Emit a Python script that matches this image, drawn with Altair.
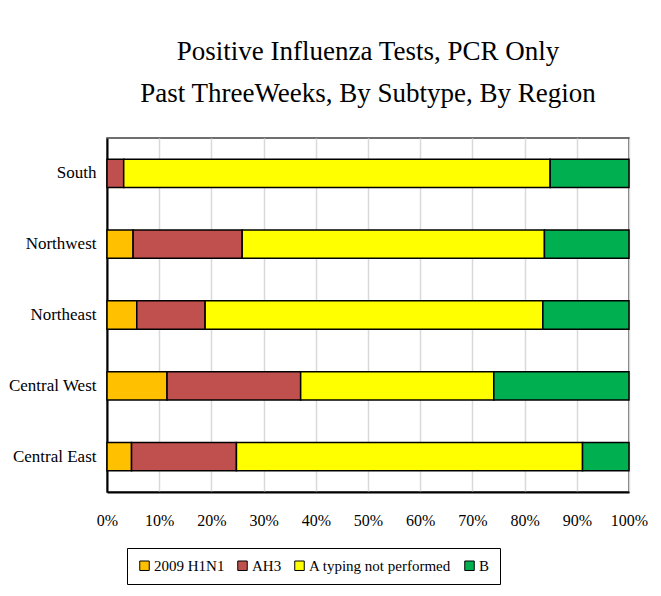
import altair as alt
import pandas as pd

regions = ["South", "Northwest", "Northeast", "Central West", "Central East"]
subtypes = ["2009 H1N1", "AH3", "A typing not performed", "B"]
h1n1 = [0.0, 5.0, 5.7, 11.5, 4.7]
ah3 = [3.2, 20.9, 13.1, 25.6, 20.1]
a_not_typed = [81.7, 57.9, 64.7, 37.0, 66.3]
b = [15.1, 16.2, 16.5, 25.9, 8.9]
colors = ["#FFC000", "#C0504D", "#FFFF00", "#00B050"]
x_ticks = [0, 0.1, 0.2, 0.3, 0.4, 0.5, 0.6, 0.7, 0.8, 0.9, 1.0]

rows = []
for i, r in enumerate(regions):
    for k, (s, vals) in enumerate(zip(subtypes, [h1n1, ah3, a_not_typed, b])):
        if vals[i] > 0:
            rows.append({"Region": r, "Subtype": s, "Value": vals[i], "order": k})
df = pd.DataFrame(rows)

FONT = "Liberation Serif"

chart = alt.Chart(df).mark_bar(stroke="black", strokeWidth=1.5).encode(
    y=alt.Y("Region:N", sort=regions,
            scale=alt.Scale(paddingInner=0.6, paddingOuter=0.3),
            axis=alt.Axis(title=None, ticks=False, domainColor="black", domainWidth=2,
                          labelFont=FONT, labelFontSize=17, labelColor="black",
                          labelPadding=11, grid=False)),
    x=alt.X("Value:Q", stack="normalize",
            scale=alt.Scale(domain=[0, 1], nice=False),
            axis=alt.Axis(title=None, format=".0%", values=x_ticks, ticks=False,
                          domainColor="black", domainWidth=2,
                          labelFont=FONT, labelFontSize=16, labelColor="black",
                          labelPadding=20, labelOverlap=False, labelFlush=False,
                          grid=True, gridColor="#d9d9d9", gridWidth=1.5)),
    color=alt.Color("Subtype:N", sort=subtypes,
                    scale=alt.Scale(domain=subtypes, range=colors),
                    legend=alt.Legend(title=None, orient="none", legendX=20, legendY=410,
                                      direction="horizontal", strokeColor="black",
                                      padding=10, labelFont=FONT, labelFontSize=15,
                                      labelColor="black", labelLimit=400,
                                      symbolType="square",
                                      symbolSize=90, symbolStrokeColor="black",
                                      symbolStrokeWidth=1, columnPadding=10,
                                      labelOffset=2)),
    order=alt.Order("order:Q"),
).properties(
    width=522,
    height=354,
    title=alt.Title(["Positive Influenza  Tests, PCR Only",
                     "Past ThreeWeeks, By Subtype, By Region"],
                    font=FONT, fontSize=27, fontWeight="normal", color="black",
                    lineHeight=42, offset=30),
    padding={"left": 0, "top": 30, "right": 5, "bottom": 5},
).configure_view(stroke="#404040", strokeWidth=1.5)

chart.save("out.html", embed_options={"renderer": "svg", "actions": False})
